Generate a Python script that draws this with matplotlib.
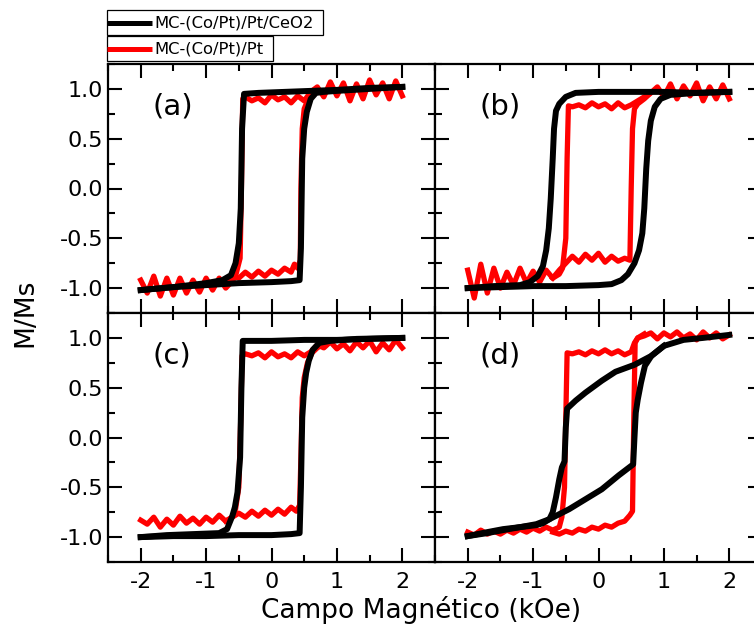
import numpy as np
import matplotlib
matplotlib.use("Agg")
import matplotlib.pyplot as plt
from matplotlib.lines import Line2D
from matplotlib.patches import Rectangle
from matplotlib.ticker import MultipleLocator

plt.rcParams['font.family'] = ['DejaVu Sans']

# --- dados (H em kOe, M/Ms) ---
# (a)
a_blk_desc_H = [2.0, 1.5, 1.0, 0.6, 0.2, -0.2, -0.42, -0.45, -0.47, -0.5, -0.55, -0.62, -0.75, -1.0, -1.5, -2.0]
a_blk_desc_M = [1.02, 1.01, 0.99, 0.98, 0.97, 0.96, 0.95, 0.6, -0.2, -0.55, -0.75, -0.87, -0.92, -0.95, -0.99, -1.02]
a_blk_asc_H = [-2.0, -1.5, -1.0, -0.5, 0.0, 0.3, 0.43, 0.45, 0.47, 0.5, 0.54, 0.6, 0.68, 0.8, 1.0, 1.5, 2.0]
a_blk_asc_M = [-1.02, -0.99, -0.97, -0.95, -0.94, -0.93, -0.92, -0.6, 0.3, 0.6, 0.77, 0.9, 0.96, 0.97, 0.98, 1.0, 1.02]
a_red_desc_H = [2.0, 1.9, 1.8, 1.7, 1.6, 1.5, 1.4, 1.3, 1.2, 1.1, 1.0, 0.9, 0.8, 0.7, 0.6, 0.5, 0.4, 0.3,
                0.2, 0.1, 0.0, -0.1, -0.2, -0.3, -0.4, -0.44, -0.46, -0.48, -0.55, -0.6, -0.7, -0.8, -0.9,
                -1.0, -1.1, -1.2, -1.3, -1.4, -1.5, -1.6, -1.7, -1.8, -1.9, -2.0]
a_red_desc_M = [0.93, 1.08, 0.9, 1.06, 0.94, 1.09, 0.9, 1.05, 0.88, 1.06, 0.93, 1.07, 0.92, 1.02, 0.97, 0.88,
                0.93, 0.86, 0.92, 0.89, 0.94, 0.86, 0.91, 0.88, 0.92, 0.9, 0.0, -0.7, -0.88, -0.93, -1.0,
                -0.9, -1.02, -0.9, -1.04, -0.92, -1.05, -0.9, -1.07, -0.9, -1.08, -0.88, -1.05, -0.92]
a_red_asc_H = [-0.7, -0.6, -0.5, -0.4, -0.3, -0.2, -0.1, 0.0, 0.1, 0.2, 0.3, 0.35, 0.4, 0.44, 0.45, 0.47,
               0.5, 0.55, 0.6, 0.7]
a_red_asc_M = [-0.95, -0.88, -0.9, -0.84, -0.89, -0.83, -0.88, -0.82, -0.86, -0.8, -0.84, -0.76, -0.8, -0.72,
               0.0, 0.6, 0.8, 0.88, 0.93, 0.97]

# (b)
b_blk_desc_H = [2.0, 1.5, 1.0, 0.5, 0.0, -0.35, -0.5, -0.6, -0.65, -0.68, -0.7, -0.73, -0.76, -0.8, -0.85,
                -0.93, -1.05, -1.2, -1.6, -2.0]
b_blk_desc_M = [0.97, 0.96, 0.97, 0.97, 0.97, 0.96, 0.92, 0.85, 0.78, 0.6, 0.3, -0.1, -0.4, -0.62, -0.78,
                -0.88, -0.94, -0.97, -0.98, -1.0]
b_blk_asc_H = [-2.0, -1.5, -1.0, -0.5, 0.0, 0.2, 0.35, 0.45, 0.55, 0.62, 0.67, 0.7, 0.73, 0.76, 0.8, 0.86,
               0.95, 1.1, 1.5, 2.0]
b_blk_asc_M = [-1.0, -0.99, -0.98, -0.98, -0.97, -0.96, -0.92, -0.86, -0.75, -0.62, -0.45, -0.2, 0.2, 0.48,
               0.68, 0.82, 0.9, 0.94, 0.96, 0.97]
b_red_desc_H = [2.0, 1.9, 1.8, 1.7, 1.6, 1.5, 1.4, 1.3, 1.2, 1.1, 1.0, 0.9, 0.8, 0.7, 0.6, 0.5, 0.4, 0.3,
                0.2, 0.1, 0.0, -0.1, -0.2, -0.3, -0.4, -0.46, -0.48, -0.5, -0.55, -0.6, -0.7, -0.8, -0.9,
                -1.0, -1.1, -1.2, -1.3, -1.4, -1.5, -1.6, -1.7, -1.8, -1.9, -2.0]
b_red_desc_M = [0.9, 1.04, 0.9, 1.02, 0.88, 1.06, 0.93, 1.03, 0.9, 1.05, 0.92, 1.02, 0.96, 0.92, 0.88, 0.84,
                0.81, 0.86, 0.8, 0.85, 0.82, 0.86, 0.81, 0.84, 0.82, 0.83, 0.3, -0.5, -0.8, -0.86, -0.9,
                -0.82, -0.94, -0.83, -0.95, -0.8, -0.97, -0.84, -1.0, -0.8, -1.05, -0.76, -1.1, -0.82]
b_red_asc_H = [-0.7, -0.6, -0.5, -0.4, -0.3, -0.2, -0.1, 0.0, 0.1, 0.2, 0.3, 0.4, 0.48, 0.5, 0.52, 0.55,
               0.6, 0.7, 0.8]
b_red_asc_M = [-0.9, -0.82, -0.75, -0.68, -0.74, -0.66, -0.72, -0.65, -0.74, -0.68, -0.73, -0.7, -0.72, 0.0,
               0.6, 0.8, 0.85, 0.9, 0.96]

# (c)
c_blk_desc_H = [2.0, 1.5, 1.0, 0.5, 0.0, -0.3, -0.44, -0.46, -0.48, -0.52, -0.56, -0.6, -0.68, -0.8, -1.2,
                -1.6, -2.0]
c_blk_desc_M = [1.0, 0.99, 0.98, 0.98, 0.97, 0.97, 0.97, 0.5, -0.2, -0.55, -0.7, -0.79, -0.92, -0.96, -0.97,
                -0.98, -1.0]
c_blk_asc_H = [-2.0, -1.5, -1.0, -0.5, 0.0, 0.3, 0.43, 0.45, 0.47, 0.5, 0.53, 0.57, 0.63, 0.73, 0.9, 1.3, 2.0]
c_blk_asc_M = [-1.0, -0.99, -0.99, -0.98, -0.98, -0.97, -0.96, -0.5, 0.2, 0.5, 0.65, 0.77, 0.88, 0.95, 0.97,
               0.99, 1.0]
c_red_desc_H = [2.0, 1.9, 1.8, 1.7, 1.6, 1.5, 1.4, 1.3, 1.2, 1.1, 1.0, 0.9, 0.8, 0.7, 0.6, 0.5, 0.4, 0.3,
                0.2, 0.1, 0.0, -0.1, -0.2, -0.3, -0.4, -0.45, -0.47, -0.5, -0.55, -0.6, -0.7, -0.8, -0.9,
                -1.0, -1.1, -1.2, -1.3, -1.4, -1.5, -1.6, -1.7, -1.8, -1.9, -2.0]
c_red_desc_M = [0.9, 0.98, 0.88, 0.95, 0.86, 0.97, 0.9, 0.96, 0.87, 0.94, 0.89, 0.96, 0.9, 0.93, 0.86, 0.82,
                0.86, 0.8, 0.84, 0.81, 0.86, 0.8, 0.85, 0.82, 0.84, 0.82, 0.2, -0.5, -0.72, -0.8, -0.84,
                -0.78, -0.85, -0.8, -0.87, -0.81, -0.86, -0.79, -0.88, -0.82, -0.9, -0.8, -0.87, -0.83]
c_red_asc_H = [-0.7, -0.6, -0.5, -0.4, -0.3, -0.2, -0.1, 0.0, 0.1, 0.2, 0.3, 0.38, 0.43, 0.45, 0.47, 0.5,
               0.55, 0.62, 0.7, 0.8]
c_red_asc_M = [-0.84, -0.8, -0.76, -0.8, -0.74, -0.79, -0.73, -0.78, -0.72, -0.77, -0.7, -0.74, -0.68, -0.2,
               0.4, 0.6, 0.75, 0.85, 0.9, 0.94]

# (d)
d_blk_desc_H = [2.0, 1.6, 1.3, 1.0, 0.81, 0.55, 0.26, 0.05, -0.2, -0.35, -0.48, -0.5, -0.52, -0.56, -0.6,
                -0.65, -0.7, -0.75, -0.85, -0.95, -1.2, -1.46, -1.7, -2.0]
d_blk_desc_M = [1.03, 1.0, 0.98, 0.92, 0.82, 0.73, 0.66, 0.57, 0.45, 0.37, 0.29, 0.1, -0.24, -0.3, -0.42,
                -0.6, -0.75, -0.82, -0.86, -0.88, -0.9, -0.92, -0.95, -0.99]
d_blk_asc_H = [-2.0, -1.7, -1.46, -1.2, -0.95, -0.75, -0.45, -0.2, 0.05, 0.31, 0.53, 0.55, 0.57, 0.6, 0.65,
               0.71, 0.81, 1.0]
d_blk_asc_M = [-0.99, -0.96, -0.93, -0.9, -0.87, -0.82, -0.72, -0.62, -0.52, -0.38, -0.27, 0.0, 0.25, 0.38,
               0.55, 0.72, 0.82, 0.92]
d_red_desc_H = [2.0, 1.9, 1.8, 1.7, 1.6, 1.5, 1.4, 1.3, 1.2, 1.1, 1.0, 0.9, 0.8, 0.7, 0.6, 0.55, 0.5, 0.4,
                0.3, 0.2, 0.1, 0.0, -0.1, -0.2, -0.3, -0.4, -0.48, -0.5, -0.52, -0.56, -0.6, -0.7, -0.8,
                -0.9, -1.0, -1.1, -1.2, -1.3, -1.4, -1.5, -1.6, -1.7, -1.8, -1.9, -2.0]
d_red_desc_M = [1.03, 0.99, 1.05, 1.0, 1.06, 0.98, 1.04, 1.0, 1.06, 1.01, 1.05, 0.99, 1.05, 1.02, 1.0, 0.95,
                0.86, 0.83, 0.87, 0.84, 0.88, 0.84, 0.87, 0.83, 0.86, 0.84, 0.85, 0.2, -0.5, -0.8, -0.9,
                -0.93, -0.9, -0.94, -0.91, -0.95, -0.92, -0.96, -0.93, -0.97, -0.94, -0.97, -0.93, -0.98,
                -0.95]
d_red_asc_H = [-0.7, -0.6, -0.5, -0.4, -0.3, -0.2, -0.1, 0.0, 0.1, 0.2, 0.3, 0.4, 0.48, 0.52, 0.54, 0.56,
               0.6, 0.7]
d_red_asc_M = [-0.95, -0.97, -0.94, -0.96, -0.92, -0.94, -0.9, -0.92, -0.88, -0.9, -0.86, -0.84, -0.78,
               -0.74, 0.2, 0.95, 1.0, 1.04]

panels = [
    ("(a)", a_blk_desc_H, a_blk_desc_M, a_blk_asc_H, a_blk_asc_M, a_red_desc_H, a_red_desc_M, a_red_asc_H, a_red_asc_M),
    ("(b)", b_blk_desc_H, b_blk_desc_M, b_blk_asc_H, b_blk_asc_M, b_red_desc_H, b_red_desc_M, b_red_asc_H, b_red_asc_M),
    ("(c)", c_blk_desc_H, c_blk_desc_M, c_blk_asc_H, c_blk_asc_M, c_red_desc_H, c_red_desc_M, c_red_asc_H, c_red_asc_M),
    ("(d)", d_blk_desc_H, d_blk_desc_M, d_blk_asc_H, d_blk_asc_M, d_red_desc_H, d_red_desc_M, d_red_asc_H, d_red_asc_M),
]

legend_labels = ["MC-(Co/Pt)/Pt/CeO2", "MC-(Co/Pt)/Pt"]
legend_colors = ['black', 'red']
x_ticks = [-2, -1, 0, 1, 2]
y_ticks = [-1.0, -0.5, 0.0, 0.5, 1.0]

W, H = 754, 627
fig = plt.figure(figsize=(W / 100, H / 100), dpi=100)

# posicoes dos paineis em pixels: (esquerda, topo)
ax_w, ax_h = 327, 249
origins = [(108, 64), (435, 64), (108, 313), (435, 313)]

for i, (lab, bdh, bdm, bah, bam, rdh, rdm, rah, ram) in enumerate(panels):
    x0, y0 = origins[i]
    ax = fig.add_axes([x0 / W, 1 - (y0 + ax_h) / H, ax_w / W, ax_h / H])
    ax.plot(rdh, rdm, color='red', lw=3.8, solid_joinstyle='round', zorder=2)
    ax.plot(rah, ram, color='red', lw=3.8, solid_joinstyle='round', zorder=2)
    ax.plot(bdh, bdm, color='black', lw=4.3, solid_joinstyle='round', zorder=3)
    ax.plot(bah, bam, color='black', lw=4.3, solid_joinstyle='round', zorder=3)
    ax.set_xlim(-2.5, 2.5)
    ax.set_ylim(-1.25, 1.25)
    ax.set_xticks(x_ticks)
    ax.set_yticks(y_ticks)
    ax.xaxis.set_minor_locator(MultipleLocator(0.5))
    ax.yaxis.set_minor_locator(MultipleLocator(0.25))
    ax.tick_params(which='both', direction='in', top=True, right=True, width=1.5, labelsize=16)
    ax.tick_params(which='major', length=10)
    ax.tick_params(which='minor', length=5)
    for s in ax.spines.values():
        s.set_linewidth(1.6)
    if i in (0, 2):
        ax.set_yticklabels(["-1.0", "-0.5", "0.0", "0.5", "1.0"])
    else:
        ax.set_yticklabels([])
    if i in (2, 3):
        ax.set_xticklabels([str(t) for t in x_ticks])
        ax.tick_params(axis='x', pad=7)
    else:
        ax.set_xticklabels([])
    ax.text(0.135, 0.83, lab, transform=ax.transAxes, fontsize=21, ha='left', va='center')

fig.text(25 / W, 1 - 313 / H, "M/Ms", rotation=90, fontsize=19, ha='center', va='center')
fig.text(421 / W, 1 - 610 / H, "Campo Magnético (kOe)", fontsize=19, ha='center', va='center')

# legenda: duas caixas separadas, linha encostada na borda esquerda
renderer = fig.canvas.get_renderer()
box_left, box_h = 107, 25
for k, (lbl, col) in enumerate(zip(legend_labels, legend_colors)):
    top = 10 + k * 26
    yc = 1 - (top + box_h / 2) / H
    t = fig.text(154 / W, yc, lbl, fontsize=11.8, ha='left', va='center')
    bb = t.get_window_extent(renderer)
    right = bb.x1 + 10
    fig.add_artist(Rectangle((box_left / W, 1 - (top + box_h) / H), (right - box_left) / W, box_h / H,
                             transform=fig.transFigure, fill=False, edgecolor='black', lw=0.9))
    fig.add_artist(Line2D([box_left / W, 152 / W], [yc, yc], transform=fig.transFigure,
                          color=col, lw=3.6, solid_capstyle='butt'))

fig.savefig("out.png", dpi=100)
